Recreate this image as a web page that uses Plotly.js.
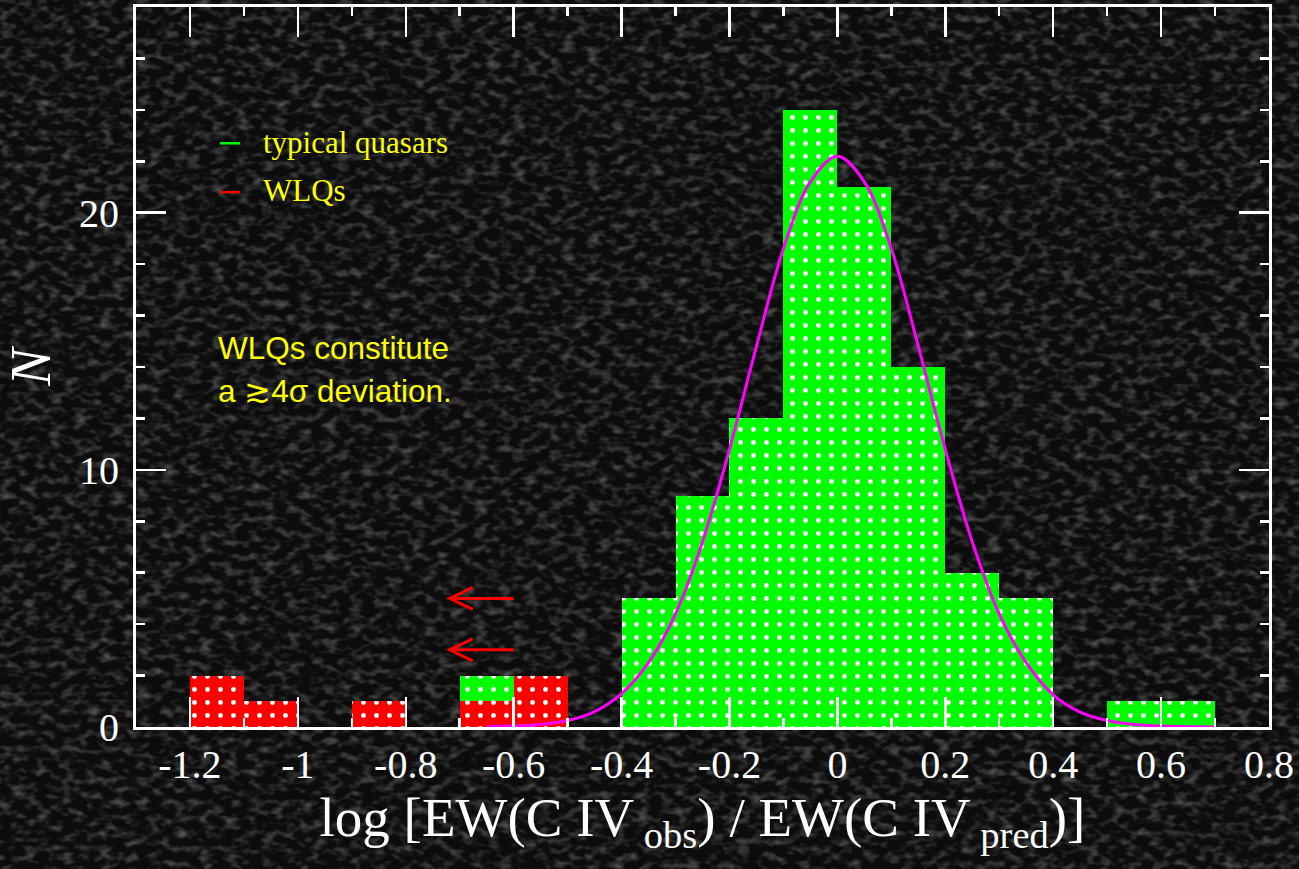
<!DOCTYPE html>
<html>
<head>
<meta charset="utf-8">
<script src="https://cdn.plot.ly/plotly-3.0.1.min.js"></script>
<style>
html,body{margin:0;padding:0;width:1299px;height:869px;overflow:hidden;}
body{
  background-color:#0c0c0c;
  background-image:url("data:image/svg+xml;utf8,<svg xmlns='http://www.w3.org/2000/svg' width='1299' height='869'><filter id='n' x='0' y='0' width='100%' height='100%'><feTurbulence type='fractalNoise' baseFrequency='0.08 0.13' numOctaves='2' seed='7'/><feColorMatrix values='0 0 0 0 0.19  0 0 0 0 0.19  0 0 0 0 0.19  1.5 0 0 0 -0.68'/></filter><rect width='100%' height='100%' fill='%230c0c0c'/><rect width='100%' height='100%' filter='url(%23n)'/></svg>");
}
#chart{width:1299px;height:869px;}
</style>
</head>
<body>
<div id="chart"></div>
<script>
// ---- data ----
const typicalBinCenters = [-0.65, -0.35, -0.25, -0.15, -0.05, 0.05, 0.15, 0.25, 0.35, 0.55, 0.65];
const typicalCounts     = [2, 5, 9, 12, 24, 21, 14, 6, 5, 1, 1];
const wlqBinCenters     = [-1.15, -1.05, -0.85, -0.65, -0.55];
const wlqCounts         = [2, 1, 1, 1, 2];
const binWidth = 0.1;

// Gaussian curve
const curveX = [-0.65, -0.6, -0.55, -0.5, -0.45, -0.4, -0.35, -0.3, -0.25, -0.2, -0.15, -0.1, -0.05, 0,
                0.05, 0.1, 0.15, 0.2, 0.25, 0.3, 0.35, 0.4, 0.45, 0.5, 0.55, 0.6, 0.65, 0.7];
const curveY = [0.01, 0.04, 0.1, 0.25, 0.6, 1.3, 2.5, 4.4, 7.2, 10.8, 14.8, 18.6, 21.2, 22.2,
                21.2, 18.6, 14.8, 10.8, 7.2, 4.4, 2.5, 1.25, 0.58, 0.25, 0.1, 0.035, 0.01, 0.004];

// upper-limit arrows (WLQs)
const arrowY = [5, 3];
const arrowFromX = -0.6;
const arrowToX = -0.7185;

const xTickVals = [-1.2, -1, -0.8, -0.6, -0.4, -0.2, 0, 0.2, 0.4, 0.6, 0.8];
const xTickText = ['-1.2', '-1', '-0.8', '-0.6', '-0.4', '-0.2', '0', '0.2', '0.4', '0.6', '0.8'];
const yTickVals = [0, 10, 20];
const yTickText = ['0', '10', '20'];

const legendLabels = ['typical quasars', 'WLQs'];
const legendColors = ['#00ff00', '#ff0000'];
const legendY = [22.7, 20.8];

const noteLines = ['WLQs constitute', 'a ≳4σ deviation.'];
const noteY = [14.74, 13.05];

// ---- traces ----
const dotPattern = (bg) => ({shape: '.', fgcolor: '#ffffff', bgcolor: bg, size: 13, solidity: 0.11, fillmode: 'replace'});

const traces = [
  {
    type: 'bar', x: typicalBinCenters, y: typicalCounts, width: binWidth,
    marker: {color: '#00ff00', line: {width: 0}, pattern: dotPattern('#00ff00')},
    showlegend: false, hoverinfo: 'skip'
  },
  {
    type: 'bar', x: wlqBinCenters, y: wlqCounts, width: binWidth,
    marker: {color: '#ff0000', line: {width: 0}, pattern: dotPattern('#ff0000')},
    showlegend: false, hoverinfo: 'skip'
  },
  {
    type: 'scatter', mode: 'lines', x: curveX, y: curveY,
    line: {color: '#ff00ff', width: 3, shape: 'spline', smoothing: 1},
    showlegend: false, hoverinfo: 'skip'
  }
];

// ---- shapes & annotations ----
const shapes = [];
arrowY.forEach(y => {
  shapes.push({type: 'line', xref: 'x', yref: 'y', x0: arrowFromX, x1: arrowToX, y0: y, y1: y,
               line: {color: '#ff0000', width: 3}});
  shapes.push({type: 'path', xref: 'x', yref: 'y', xsizemode: 'pixel', ysizemode: 'pixel',
               xanchor: arrowToX, yanchor: y, path: 'M 23,11 L 0,0 L 23,-11',
               line: {color: '#ff0000', width: 3}});
});
legendY.forEach((y, i) => {
  shapes.push({type: 'line', xref: 'x', yref: 'y', x0: -1.144, x1: -1.107, y0: y, y1: y,
               line: {color: legendColors[i], width: 2.5}});
});

const annotations = [];
legendLabels.forEach((t, i) => {
  annotations.push({xref: 'x', yref: 'y', x: -1.068, y: legendY[i] + 0.05, text: t, showarrow: false,
                    xanchor: 'left', yanchor: 'middle',
                    font: {family: 'Liberation Serif, Times New Roman, serif', size: 31, color: '#ffff00'}});
});
noteLines.forEach((t, i) => {
  annotations.push({xref: 'x', yref: 'y', x: -1.152, y: noteY[i], text: t, showarrow: false,
                    xanchor: 'left', yanchor: 'middle',
                    font: {family: 'Liberation Sans, Arial, sans-serif', size: 31.5, color: '#ffff00'}});
});

const serif = 'Liberation Serif, Times New Roman, serif';

const layout = {
  width: 1299, height: 869,
  margin: {l: 136, r: 30, t: 7, b: 142},
  paper_bgcolor: 'rgba(0,0,0,0)',
  plot_bgcolor: 'rgba(0,0,0,0)',
  barmode: 'overlay', bargap: 0,
  showlegend: false,
  xaxis: {
    range: [-1.3, 0.8], autorange: false,
    tickmode: 'array', tickvals: xTickVals, ticktext: xTickText,
    ticks: 'inside', ticklen: 30, tickwidth: 2.5, tickcolor: '#ffffff',
    minor: {dtick: 0.1, tick0: 0, ticks: 'inside', ticklen: 9, tickwidth: 2.5, tickcolor: '#ffffff', showgrid: false},
    showline: true, linecolor: '#ffffff', linewidth: 3, mirror: 'allticks',
    showgrid: false, zeroline: false,
    tickfont: {family: serif, size: 40, color: '#ffffff'},
    title: {text: 'log [EW(C IV<sub> obs</sub>) / EW(C IV<sub> pred</sub>)]', standoff: 6,
            font: {family: serif, size: 55, color: '#ffffff'}},
    automargin: false
  },
  yaxis: {
    range: [0, 28], autorange: false,
    tickmode: 'array', tickvals: yTickVals, ticktext: yTickText,
    ticks: 'inside', ticklen: 30, tickwidth: 2.5, tickcolor: '#ffffff',
    minor: {dtick: 2, tick0: 0, ticks: 'inside', ticklen: 9, tickwidth: 2.5, tickcolor: '#ffffff', showgrid: false},
    showline: true, linecolor: '#ffffff', linewidth: 3, mirror: 'allticks',
    showgrid: false, zeroline: false,
    tickfont: {family: serif, size: 40, color: '#ffffff'},
    ticklabelstandoff: 6,
    title: {text: '<i>N</i>', standoff: 14, font: {family: serif, size: 56, color: '#ffffff'}},
    automargin: false
  },
  shapes: shapes,
  annotations: annotations
};

Plotly.newPlot('chart', traces, layout, {displayModeBar: false, staticPlot: true});
</script>
</body>
</html>
